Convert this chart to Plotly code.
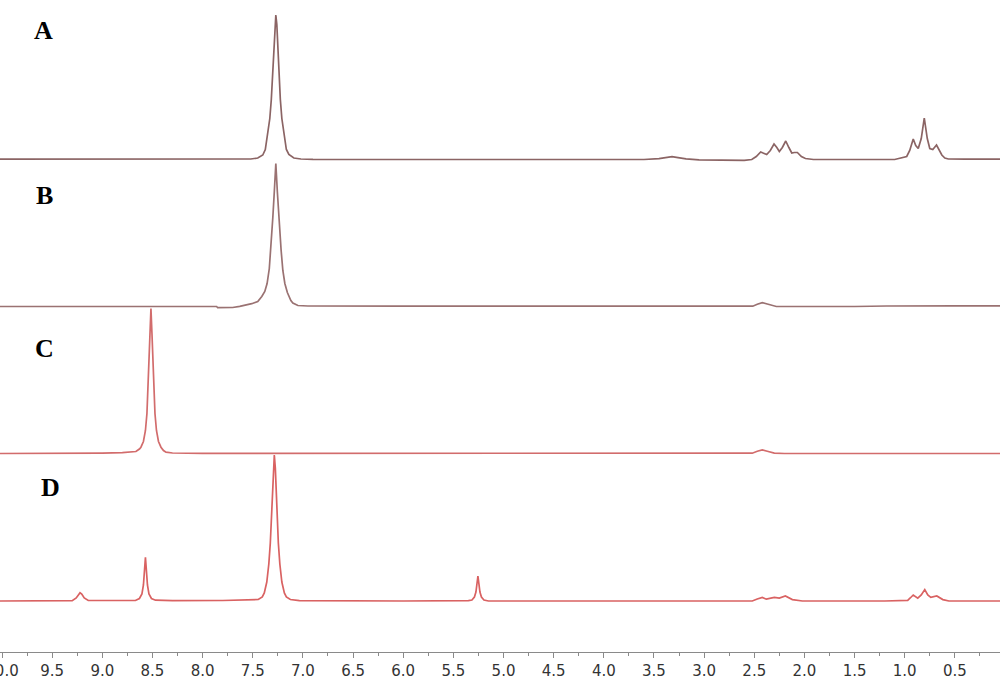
import plotly.graph_objects as go

# ---------------- data (ppm, intensity a.u.) ----------------
spec_A = [(10.02, 0.3), (9.0, 0.3), (8.0, 0.3), (7.60, 0.3), (7.52, 0.5), (7.45, 1.5), (7.40, 4.5),
          (7.375, 10), (7.36, 19), (7.345, 29), (7.33, 41), (7.315, 60), (7.30, 89), (7.29, 113),
          (7.28, 135), (7.27, 144.5), (7.26, 135), (7.25, 113), (7.24, 89), (7.225, 60), (7.21, 41),
          (7.195, 29), (7.18, 19), (7.165, 10), (7.14, 5), (7.09, 1.5), (7.02, 0.5), (6.90, 0.2),
          (6.0, 0), (5.0, 0), (4.0, 0), (3.60, 0), (3.45, 0.8), (3.38, 1.8), (3.32, 2.8), (3.26, 1.8),
          (3.18, 0.6), (3.05, -0.4), (2.80, -0.8), (2.60, -0.8), (2.525, 0), (2.48, 3), (2.436, 7.5),
          (2.40, 6), (2.376, 5), (2.34, 9), (2.303, 15.5), (2.275, 12), (2.25, 8), (2.22, 12),
          (2.186, 18.5), (2.155, 12), (2.126, 6.5), (2.10, 7), (2.07, 7), (2.03, 3), (1.99, 1),
          (1.91, 0), (1.5, 0), (1.10, 0), (0.98, 3), (0.95, 9), (0.915, 20.5), (0.89, 14),
          (0.865, 11), (0.835, 21), (0.805, 41.5), (0.775, 21), (0.75, 11), (0.72, 10),
          (0.683, 14.5), (0.655, 9), (0.63, 4.5), (0.60, 1.5), (0.565, 0.5), (0.40, 0.3), (0.05, 0.3)]

spec_B = [(10.02, 0), (9.0, 0), (8.2, 0), (7.86, 0), (7.85, -1.2), (7.70, -1.0), (7.63, 0.2),
          (7.51, 2.8), (7.45, 5), (7.41, 10), (7.38, 15), (7.357, 23), (7.335, 38), (7.32, 56),
          (7.30, 89), (7.285, 115), (7.27, 143), (7.255, 115), (7.24, 89), (7.217, 56), (7.20, 36),
          (7.18, 23), (7.155, 14), (7.137, 10), (7.12, 6), (7.10, 3.5), (7.05, 1), (6.95, 0.5),
          (6.60, 0.6), (6.0, 0.4), (5.0, 0.3), (4.0, 0.2), (3.0, 0.2), (2.60, 0.3), (2.515, 0.3),
          (2.47, 2.2), (2.42, 3.8), (2.37, 2.5), (2.32, 1), (2.28, 0), (1.5, 0), (1.18, 0.5),
          (0.5, 0.7), (0.05, 0.7)]

spec_C = [(10.02, 0), (9.5, 0), (9.0, 0.3), (8.80, 0.8), (8.72, 1.3), (8.665, 2.0), (8.63, 4.5),
          (8.615, 6.3), (8.59, 12), (8.57, 23), (8.555, 40), (8.545, 63), (8.535, 88), (8.525, 120),
          (8.515, 145), (8.505, 120), (8.495, 88), (8.485, 63), (8.475, 40), (8.46, 23), (8.44, 12),
          (8.415, 6.3), (8.39, 3), (8.365, 1.3), (8.30, 0.5), (8.0, 0.2), (6.0, 0), (4.0, 0),
          (2.60, 0), (2.52, 0.3), (2.47, 2.2), (2.42, 3.5), (2.37, 2.2), (2.30, 0.4), (2.2, 0),
          (1.0, 0), (0.05, 0)]

spec_D = [(10.02, 0), (9.40, 0), (9.30, 0.3), (9.26, 3), (9.235, 7), (9.222, 8.3), (9.205, 7),
          (9.18, 3), (9.14, 0.5), (9.0, 0.3), (8.67, 0.5), (8.63, 2.5), (8.605, 7), (8.59, 16),
          (8.58, 30), (8.57, 43.7), (8.56, 30), (8.55, 16), (8.535, 7), (8.51, 2.5), (8.47, 0.8),
          (8.30, 0.3), (7.80, 0.5), (7.60, 0.8), (7.445, 1.5), (7.405, 4), (7.385, 8), (7.36, 19),
          (7.34, 37), (7.325, 58), (7.315, 78), (7.305, 105), (7.295, 133), (7.285, 146),
          (7.275, 133), (7.265, 105), (7.255, 78), (7.245, 58), (7.23, 37), (7.21, 19), (7.185, 8),
          (7.165, 4), (7.125, 1.5), (7.035, 0.3), (6.0, 0), (5.40, 0), (5.35, 0.3), (5.315, 1),
          (5.29, 4), (5.275, 9), (5.265, 17), (5.255, 25), (5.245, 17), (5.235, 9), (5.22, 4),
          (5.195, 1), (5.15, 0), (4.0, 0), (2.60, 0), (2.52, 0), (2.47, 2), (2.42, 3.6), (2.38, 1.8),
          (2.30, 3.6), (2.25, 2.9), (2.19, 5), (2.12, 1.4), (2.02, 0), (1.2, 0), (0.97, 0.7),
          (0.945, 3), (0.915, 6), (0.87, 2.9), (0.835, 6), (0.80, 11.4), (0.77, 6), (0.74, 3.6),
          (0.68, 5), (0.62, 1.4), (0.56, 0), (0.05, 0)]

labels = ["A", "B", "C", "D"]

# ---------------- layout / style ----------------
W, H = 1000, 679
MB = 27
PLOT_H = H - MB            # plot area height in px (1 a.u. = 1 px)
baselines_px = [159.5, 306.5, 453.5, 601.0]
colors = ["#8b6464", "#9a7272", "#d26c6c", "#d96262"]
label_pos_px = [(43, 31), (44, 195), (44, 348), (50, 487)]

fig = go.Figure()
specs = [spec_A, spec_B, spec_C, spec_D]
for i, (spec, col) in enumerate(zip(specs, colors)):
    xs = [p[0] for p in spec]
    ys = [p[1] for p in spec]
    fig.add_trace(go.Scatter(x=xs, y=ys, mode="lines",
                             line=dict(color=col, width=1.7),
                             yaxis="y" if i == 0 else f"y{i+1}",
                             hoverinfo="skip", showlegend=False))

layout = dict(
    width=W, height=H,
    margin=dict(l=0, r=0, t=0, b=MB),
    paper_bgcolor="white", plot_bgcolor="white",
    showlegend=False,
    xaxis=dict(range=[10.02, 0.05], anchor="free", position=0,
               showline=True, linecolor="#8a8a8a", linewidth=1,
               ticks="outside", ticklen=5, tickcolor="#8a8a8a", tickwidth=1,
               dtick=0.5, tick0=0, tickformat=".1f", ticklabeloverflow="allow",
               minor=dict(dtick=0.25, ticks="outside", ticklen=3, tickcolor="#8a8a8a"),
               showgrid=False, zeroline=False, automargin=False,
               tickfont=dict(family="DejaVu Sans", size=15, color="#333333")),
)
for i, yb in enumerate(baselines_px):
    key = "yaxis" if i == 0 else f"yaxis{i+1}"
    ax = dict(range=[yb - PLOT_H, yb], visible=False, showgrid=False, zeroline=False,
              fixedrange=True)
    if i > 0:
        ax["overlaying"] = "y"
    layout[key] = ax
fig.update_layout(**layout)

for lab, (px, py) in zip(labels, label_pos_px):
    fig.add_annotation(x=px / W, y=(PLOT_H - py) / PLOT_H, xref="paper", yref="paper",
                       text=f"<b>{lab}</b>", showarrow=False,
                       font=dict(family="Liberation Serif", size=26, color="black"),
                       xanchor="center", yanchor="middle")

fig.write_html("out.html", config={"displayModeBar": False},
               post_script="document.body.style.margin='0';document.body.style.overflow='hidden';")
